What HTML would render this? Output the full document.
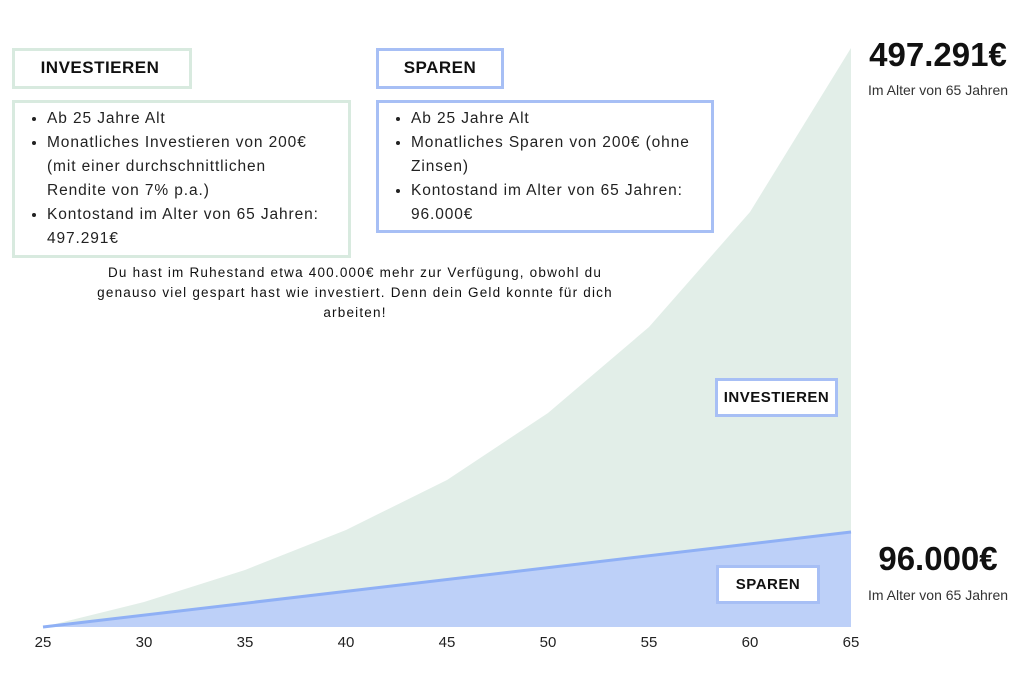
<!DOCTYPE html><html><head><meta charset="utf-8"><style>
body{margin:0;width:1024px;height:686px;background:#fff;position:relative;overflow:hidden;font-family:"Liberation Sans",sans-serif;color:#111}
.b{position:absolute;box-sizing:border-box;background:#fff}
.h{font-weight:bold;font-size:17px;text-align:center;letter-spacing:0.5px}
ul{margin:0;padding:0 0 0 32px;font-size:15.5px;line-height:24px;color:#222;white-space:nowrap;letter-spacing:0.9px}
.t{position:absolute;text-align:center}
</style></head><body>
<svg width="1024" height="686" style="position:absolute;left:0;top:0">
<path d="M43,627 L144,602 L245,570 L346,530 L447,480 L548,413 L649,327 L750,212 L851,48 L851,627 Z" fill="#e2eee8"/>
<path d="M43,627 L851,532 L851,627 Z" fill="#bdd0f8"/>
<path d="M43,627 L851,532" stroke="#8fb0f5" stroke-width="3"/>
<g font-size="15" fill="#222" text-anchor="middle" font-family="Liberation Sans">
<text x="43" y="647">25</text><text x="144" y="647">30</text><text x="245" y="647">35</text><text x="346" y="647">40</text><text x="447" y="647">45</text><text x="548" y="647">50</text><text x="649" y="647">55</text><text x="750" y="647">60</text><text x="851" y="647">65</text></g>
</svg>
<div class="b h" style="left:12px;top:48px;width:180px;height:41px;border:3px solid #d8eadf;line-height:33px;padding-right:4px">INVESTIEREN</div>
<div class="b" style="left:12px;top:100px;width:339px;height:158px;border:3px solid #d8eadf;padding-top:4px"><ul><li>Ab 25 Jahre Alt</li><li>Monatliches Investieren von 200€<br>(mit einer durchschnittlichen<br>Rendite von 7% p.a.)</li><li>Kontostand im Alter von 65 Jahren:<br>497.291€</li></ul></div>
<div class="b h" style="left:376px;top:48px;width:128px;height:41px;border:3px solid #a7bff5;line-height:33px">SPAREN</div>
<div class="b" style="left:376px;top:100px;width:338px;height:133px;border:3px solid #a7bff5;padding-top:4px"><ul><li>Ab 25 Jahre Alt</li><li>Monatliches Sparen von 200€ (ohne<br>Zinsen)</li><li>Kontostand im Alter von 65 Jahren:<br>96.000€</li></ul></div>
<div class="t" style="left:35px;top:263px;width:640px;font-size:13.5px;line-height:20px;letter-spacing:1.2px">Du hast im Ruhestand etwa 400.000€ mehr zur Verfügung, obwohl du<br>genauso viel gespart hast wie investiert. Denn dein Geld konnte für dich<br>arbeiten!</div>
<div class="b h" style="left:715px;top:378px;width:123px;height:39px;border:3px solid #a7bff5;line-height:33px;font-size:15px">INVESTIEREN</div>
<div class="b h" style="left:716px;top:565px;width:104px;height:39px;border:3px solid #a7bff5;line-height:33px;font-size:15px">SPAREN</div>
<div class="t" style="left:852px;top:36px;width:172px;font-size:33px;font-weight:bold">497.291€</div>
<div class="t" style="left:852px;top:82px;width:172px;font-size:14px;color:#333">Im Alter von 65 Jahren</div>
<div class="t" style="left:852px;top:540px;width:172px;font-size:33px;font-weight:bold">96.000€</div>
<div class="t" style="left:852px;top:587px;width:172px;font-size:14px;color:#333">Im Alter von 65 Jahren</div>
</body></html>
